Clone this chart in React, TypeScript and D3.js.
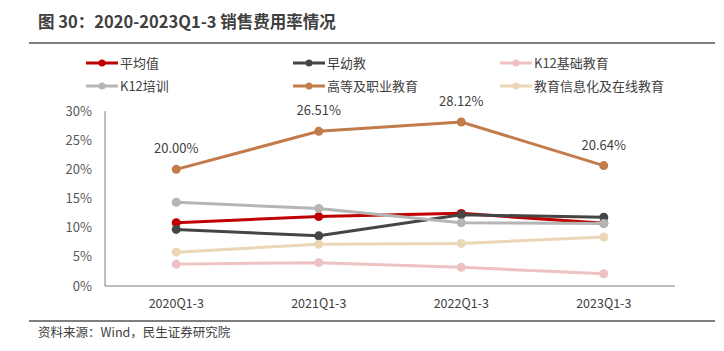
import { useEffect, useRef } from 'react';
import * as d3 from 'd3';

const categories = ['2020Q1-3', '2021Q1-3', '2022Q1-3', '2023Q1-3'];
const seriesNames = ['平均值', '早幼教', 'K12基础教育', 'K12培训', '高等及职业教育', '教育信息化及在线教育'];
const avgValues = [10.85, 11.9, 12.45, 10.75];
const earlyValues = [9.7, 8.6, 12.2, 11.8];
const k12BaseValues = [3.75, 4.0, 3.2, 2.1];
const k12TrainValues = [14.35, 13.3, 10.85, 10.7];
const higherValues = [20.0, 26.51, 28.12, 20.64];
const infoValues = [5.8, 7.15, 7.3, 8.4];
const yTicks = [0, 5, 10, 15, 20, 25, 30];
const colors = ['#C00000', '#454545', '#EEC2C2', '#B5B5B5', '#C27B4B', '#EBD6B6'];

const FONT = '"Noto Sans CJK SC", "Open Sans", sans-serif';

export default function App() {
  const svgRef = useRef<SVGSVGElement | null>(null);

  useEffect(() => {
    if (!svgRef.current) return;
    const svg = d3.select(svgRef.current);
    svg.selectAll('*').remove();

    const allValues = [avgValues, earlyValues, k12BaseValues, k12TrainValues, higherValues, infoValues];

    // title
    svg.append('text')
      .attr('x', 38)
      .attr('y', 28)
      .style('font-family', FONT)
      .style('font-size', '16.5px')
      .style('font-weight', 'bold')
      .attr('fill', '#404040')
      .text('图 30：2020-2023Q1-3 销售费用率情况');

    svg.append('line')
      .attr('x1', 29).attr('x2', 715)
      .attr('y1', 43).attr('y2', 43)
      .attr('stroke', '#555')
      .attr('stroke-width', 1.5);

    // legend
    const legendCols = [86, 293, 500];
    const legendRows = [63, 86];
    seriesNames.forEach((name, i) => {
      const lx = legendCols[i % 3];
      const ly = legendRows[Math.floor(i / 3)];
      const lg = svg.append('g').attr('transform', `translate(${lx},${ly})`);
      lg.append('line')
        .attr('x1', 0).attr('x2', 32)
        .attr('stroke', colors[i])
        .attr('stroke-width', 3);
      lg.append('circle')
        .attr('cx', 16).attr('r', 3.5)
        .attr('fill', colors[i]);
      lg.append('text')
        .attr('x', 34)
        .attr('y', 4.5)
        .style('font-family', FONT)
        .style('font-size', '13px')
        .attr('fill', '#404040')
        .text(name);
    });

    // scales
    const x = d3.scaleBand().domain(categories).range([105, 675]);
    const y = d3.scaleLinear().domain([0, 30]).range([286, 111]);
    const cx = (c: string) => (x(c) as number) + x.bandwidth() / 2;

    // axis lines
    svg.append('line')
      .attr('x1', 105).attr('x2', 105)
      .attr('y1', y(30)).attr('y2', y(0))
      .attr('stroke', '#7f7f7f');
    svg.append('line')
      .attr('x1', 105).attr('x2', 675)
      .attr('y1', y(0)).attr('y2', y(0))
      .attr('stroke', '#7f7f7f');

    svg.append('g')
      .selectAll('text')
      .data(yTicks)
      .enter()
      .append('text')
      .attr('x', 92)
      .attr('y', d => y(d) + 4.5)
      .attr('text-anchor', 'end')
      .style('font-family', FONT)
      .style('font-size', '13px')
      .attr('fill', '#595959')
      .text(d => d + '%');

    svg.append('g')
      .selectAll('text')
      .data(categories)
      .enter()
      .append('text')
      .attr('x', d => cx(d))
      .attr('y', 308)
      .attr('text-anchor', 'middle')
      .style('font-family', FONT)
      .style('font-size', '12.5px')
      .attr('fill', '#404040')
      .text(d => d);

    // lines
    const line = d3.line<number>()
      .x((_, i) => cx(categories[i]))
      .y(d => y(d));

    allValues.forEach((vals, si) => {
      const g = svg.append('g');
      g.append('path')
        .datum(vals)
        .attr('d', line)
        .attr('fill', 'none')
        .attr('stroke', colors[si])
        .attr('stroke-width', 3);
      g.selectAll('circle')
        .data(vals)
        .enter()
        .append('circle')
        .attr('cx', (_, i) => cx(categories[i]))
        .attr('cy', d => y(d))
        .attr('r', 4.5)
        .attr('fill', colors[si]);
    });

    // data labels for higher education
    svg.append('g')
      .selectAll('text')
      .data(higherValues)
      .enter()
      .append('text')
      .attr('x', (_, i) => cx(categories[i]))
      .attr('y', d => y(d) - 16)
      .attr('text-anchor', 'middle')
      .style('font-family', FONT)
      .style('font-size', '13px')
      .attr('fill', '#404040')
      .text(d => d.toFixed(2) + '%');

    // footer
    svg.append('line')
      .attr('x1', 29).attr('x2', 715)
      .attr('y1', 321).attr('y2', 321)
      .attr('stroke', '#555')
      .attr('stroke-width', 1.5);

    svg.append('text')
      .attr('x', 38)
      .attr('y', 337)
      .style('font-family', FONT)
      .style('font-size', '12.5px')
      .attr('fill', '#404040')
      .text('资料来源：Wind，民生证券研究院');
  }, []);

  return (
    <svg
      ref={svgRef}
      width={724}
      height={351}
      style={{ position: 'absolute', left: 0, top: 0, background: '#fff' }}
    />
  );
}
